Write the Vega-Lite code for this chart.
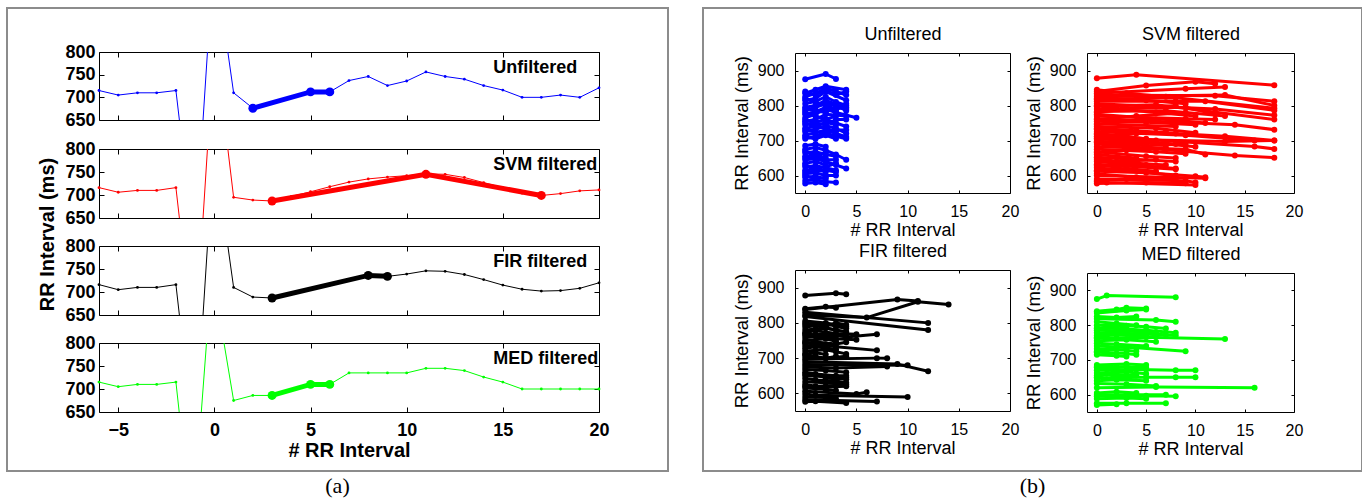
{
"$schema": "https://vega.github.io/schema/vega-lite/v6.json",
"padding": {"left": 6, "top": 7, "right": 0, "bottom": 0},
"background": "white",
"spacing": 33,
"datasets": {
"a": [
{"p":"Unfiltered","s":1,"x":-6,"y":715},{"p":"Unfiltered","s":1,"x":-5,"y":705},{"p":"Unfiltered","s":1,"x":-4,"y":710},{"p":"Unfiltered","s":1,"x":-3,"y":710},{"p":"Unfiltered","s":1,"x":-2,"y":715},{"p":"Unfiltered","s":1,"x":-1.82,"y":650},
{"p":"Unfiltered","s":2,"x":-0.59,"y":650},{"p":"Unfiltered","s":2,"x":-0.36,"y":800},
{"p":"Unfiltered","s":3,"x":0.7,"y":800},{"p":"Unfiltered","s":3,"x":1,"y":710},{"p":"Unfiltered","s":3,"x":2,"y":676},{"p":"Unfiltered","s":3,"x":3,"y":688},{"p":"Unfiltered","s":3,"x":4,"y":700},{"p":"Unfiltered","s":3,"x":5,"y":712},{"p":"Unfiltered","s":3,"x":6,"y":712},{"p":"Unfiltered","s":3,"x":7,"y":737},{"p":"Unfiltered","s":3,"x":8,"y":746},{"p":"Unfiltered","s":3,"x":9,"y":726},{"p":"Unfiltered","s":3,"x":10,"y":736},{"p":"Unfiltered","s":3,"x":11,"y":756},{"p":"Unfiltered","s":3,"x":12,"y":746},{"p":"Unfiltered","s":3,"x":13,"y":740},{"p":"Unfiltered","s":3,"x":14,"y":726},{"p":"Unfiltered","s":3,"x":15,"y":716},{"p":"Unfiltered","s":3,"x":16,"y":700},{"p":"Unfiltered","s":3,"x":17,"y":700},{"p":"Unfiltered","s":3,"x":18,"y":705},{"p":"Unfiltered","s":3,"x":19,"y":700},{"p":"Unfiltered","s":3,"x":20,"y":721},
{"p":"SVM filtered","s":1,"x":-6,"y":716},{"p":"SVM filtered","s":1,"x":-5,"y":706},{"p":"SVM filtered","s":1,"x":-4,"y":710},{"p":"SVM filtered","s":1,"x":-3,"y":710},{"p":"SVM filtered","s":1,"x":-2,"y":716},{"p":"SVM filtered","s":1,"x":-1.82,"y":650},
{"p":"SVM filtered","s":2,"x":-0.59,"y":650},{"p":"SVM filtered","s":2,"x":-0.36,"y":800},
{"p":"SVM filtered","s":3,"x":0.7,"y":800},{"p":"SVM filtered","s":3,"x":1,"y":695},{"p":"SVM filtered","s":3,"x":2,"y":689},{"p":"SVM filtered","s":3,"x":3,"y":687},{"p":"SVM filtered","s":3,"x":4,"y":697},{"p":"SVM filtered","s":3,"x":5,"y":707},{"p":"SVM filtered","s":3,"x":6,"y":718},{"p":"SVM filtered","s":3,"x":7,"y":728},{"p":"SVM filtered","s":3,"x":8,"y":735},{"p":"SVM filtered","s":3,"x":9,"y":739},{"p":"SVM filtered","s":3,"x":10,"y":742},{"p":"SVM filtered","s":3,"x":11,"y":746},{"p":"SVM filtered","s":3,"x":12,"y":745},{"p":"SVM filtered","s":3,"x":13,"y":738},{"p":"SVM filtered","s":3,"x":14,"y":727},{"p":"SVM filtered","s":3,"x":15,"y":716},{"p":"SVM filtered","s":3,"x":16,"y":704},{"p":"SVM filtered","s":3,"x":17,"y":699},{"p":"SVM filtered","s":3,"x":18,"y":703},{"p":"SVM filtered","s":3,"x":19,"y":709},{"p":"SVM filtered","s":3,"x":20,"y":711},
{"p":"FIR filtered","s":1,"x":-6,"y":716},{"p":"FIR filtered","s":1,"x":-5,"y":705},{"p":"FIR filtered","s":1,"x":-4,"y":710},{"p":"FIR filtered","s":1,"x":-3,"y":710},{"p":"FIR filtered","s":1,"x":-2,"y":716},{"p":"FIR filtered","s":1,"x":-1.82,"y":650},
{"p":"FIR filtered","s":2,"x":-0.59,"y":650},{"p":"FIR filtered","s":2,"x":-0.36,"y":800},
{"p":"FIR filtered","s":3,"x":0.7,"y":800},{"p":"FIR filtered","s":3,"x":1,"y":710},{"p":"FIR filtered","s":3,"x":2,"y":689},{"p":"FIR filtered","s":3,"x":3,"y":687},{"p":"FIR filtered","s":3,"x":4,"y":696},{"p":"FIR filtered","s":3,"x":5,"y":706},{"p":"FIR filtered","s":3,"x":6,"y":715},{"p":"FIR filtered","s":3,"x":7,"y":727},{"p":"FIR filtered","s":3,"x":8,"y":736},{"p":"FIR filtered","s":3,"x":9,"y":734},{"p":"FIR filtered","s":3,"x":10,"y":739},{"p":"FIR filtered","s":3,"x":11,"y":746},{"p":"FIR filtered","s":3,"x":12,"y":745},{"p":"FIR filtered","s":3,"x":13,"y":738},{"p":"FIR filtered","s":3,"x":14,"y":727},{"p":"FIR filtered","s":3,"x":15,"y":715},{"p":"FIR filtered","s":3,"x":16,"y":706},{"p":"FIR filtered","s":3,"x":17,"y":702},{"p":"FIR filtered","s":3,"x":18,"y":703},{"p":"FIR filtered","s":3,"x":19,"y":708},{"p":"FIR filtered","s":3,"x":20,"y":720},
{"p":"MED filtered","s":1,"x":-6,"y":715},{"p":"MED filtered","s":1,"x":-5,"y":705},{"p":"MED filtered","s":1,"x":-4,"y":710},{"p":"MED filtered","s":1,"x":-3,"y":710},{"p":"MED filtered","s":1,"x":-2,"y":715},{"p":"MED filtered","s":1,"x":-1.83,"y":650},
{"p":"MED filtered","s":2,"x":-0.68,"y":650},{"p":"MED filtered","s":2,"x":-0.41,"y":800},
{"p":"MED filtered","s":3,"x":0.5,"y":800},{"p":"MED filtered","s":3,"x":1,"y":675},{"p":"MED filtered","s":3,"x":2,"y":686},{"p":"MED filtered","s":3,"x":3,"y":686},{"p":"MED filtered","s":3,"x":4,"y":698},{"p":"MED filtered","s":3,"x":5,"y":710},{"p":"MED filtered","s":3,"x":6,"y":710},{"p":"MED filtered","s":3,"x":7,"y":735},{"p":"MED filtered","s":3,"x":8,"y":735},{"p":"MED filtered","s":3,"x":9,"y":735},{"p":"MED filtered","s":3,"x":10,"y":735},{"p":"MED filtered","s":3,"x":11,"y":745},{"p":"MED filtered","s":3,"x":12,"y":745},{"p":"MED filtered","s":3,"x":13,"y":740},{"p":"MED filtered","s":3,"x":14,"y":726},{"p":"MED filtered","s":3,"x":15,"y":715},{"p":"MED filtered","s":3,"x":16,"y":700},{"p":"MED filtered","s":3,"x":17,"y":700},{"p":"MED filtered","s":3,"x":18,"y":700},{"p":"MED filtered","s":3,"x":19,"y":700},{"p":"MED filtered","s":3,"x":20,"y":700}
],
"ah": [
{"p":"Unfiltered","x":2,"y":676},{"p":"Unfiltered","x":5,"y":712},{"p":"Unfiltered","x":6,"y":712},
{"p":"SVM filtered","x":3,"y":687},{"p":"SVM filtered","x":11,"y":745},{"p":"SVM filtered","x":17,"y":699},
{"p":"FIR filtered","x":3,"y":687},{"p":"FIR filtered","x":8,"y":736},{"p":"FIR filtered","x":9,"y":734},
{"p":"MED filtered","x":3,"y":686},{"p":"MED filtered","x":5,"y":710},{"p":"MED filtered","x":6,"y":710}
],
"b": [
{"p":"U","i":1,"x":0,"y":875},{"p":"U","i":1,"x":2,"y":890},{"p":"U","i":1,"x":3,"y":876},
{"p":"U","i":2,"x":0,"y":835},{"p":"U","i":2,"x":1,"y":845},{"p":"U","i":2,"x":2,"y":855},{"p":"U","i":2,"x":4,"y":845},
{"p":"U","i":3,"x":0,"y":825},{"p":"U","i":3,"x":1,"y":835},{"p":"U","i":3,"x":2,"y":850},{"p":"U","i":3,"x":3,"y":840},{"p":"U","i":3,"x":4,"y":830},
{"p":"U","i":4,"x":0,"y":815},{"p":"U","i":4,"x":1,"y":820},{"p":"U","i":4,"x":2,"y":840},{"p":"U","i":4,"x":4,"y":815},
{"p":"U","i":5,"x":0,"y":805},{"p":"U","i":5,"x":1,"y":812},{"p":"U","i":5,"x":2,"y":825},{"p":"U","i":5,"x":3,"y":810},{"p":"U","i":5,"x":4,"y":800},
{"p":"U","i":6,"x":0,"y":795},{"p":"U","i":6,"x":1,"y":800},{"p":"U","i":6,"x":2,"y":815},{"p":"U","i":6,"x":4,"y":790},
{"p":"U","i":7,"x":0,"y":785},{"p":"U","i":7,"x":1,"y":795},{"p":"U","i":7,"x":2,"y":805},{"p":"U","i":7,"x":3,"y":800},{"p":"U","i":7,"x":4,"y":785},
{"p":"U","i":8,"x":0,"y":775},{"p":"U","i":8,"x":1,"y":782},{"p":"U","i":8,"x":2,"y":795},{"p":"U","i":8,"x":3,"y":785},
{"p":"U","i":9,"x":0,"y":765},{"p":"U","i":9,"x":1,"y":775},{"p":"U","i":9,"x":2,"y":790},{"p":"U","i":9,"x":3,"y":780},{"p":"U","i":9,"x":5,"y":765},
{"p":"U","i":10,"x":0,"y":755},{"p":"U","i":10,"x":1,"y":760},{"p":"U","i":10,"x":2,"y":775},{"p":"U","i":10,"x":4,"y":770},
{"p":"U","i":11,"x":0,"y":745},{"p":"U","i":11,"x":1,"y":752},{"p":"U","i":11,"x":2,"y":760},{"p":"U","i":11,"x":3,"y":750},{"p":"U","i":11,"x":4,"y":740},
{"p":"U","i":12,"x":0,"y":735},{"p":"U","i":12,"x":1,"y":740},{"p":"U","i":12,"x":2,"y":752},{"p":"U","i":12,"x":3,"y":745},
{"p":"U","i":13,"x":0,"y":725},{"p":"U","i":13,"x":1,"y":732},{"p":"U","i":13,"x":2,"y":742},{"p":"U","i":13,"x":3,"y":735},{"p":"U","i":13,"x":4,"y":720},
{"p":"U","i":14,"x":0,"y":715},{"p":"U","i":14,"x":1,"y":722},{"p":"U","i":14,"x":2,"y":730},{"p":"U","i":14,"x":4,"y":710},
{"p":"U","i":15,"x":0,"y":705},{"p":"U","i":15,"x":1,"y":712},{"p":"U","i":15,"x":2,"y":722},{"p":"U","i":15,"x":3,"y":712},{"p":"U","i":15,"x":4,"y":705},
{"p":"U","i":16,"x":0,"y":780},{"p":"U","i":16,"x":1,"y":770},{"p":"U","i":16,"x":2,"y":760},{"p":"U","i":16,"x":3,"y":770},
{"p":"U","i":17,"x":0,"y":820},{"p":"U","i":17,"x":1,"y":810},{"p":"U","i":17,"x":2,"y":800},{"p":"U","i":17,"x":3,"y":790},{"p":"U","i":17,"x":4,"y":795},
{"p":"U","i":18,"x":0,"y":750},{"p":"U","i":18,"x":1,"y":740},{"p":"U","i":18,"x":2,"y":735},{"p":"U","i":18,"x":3,"y":725},
{"p":"U","i":19,"x":0,"y":685},{"p":"U","i":19,"x":1,"y":690},{"p":"U","i":19,"x":2,"y":682},
{"p":"U","i":20,"x":0,"y":675},{"p":"U","i":20,"x":1,"y":680},{"p":"U","i":20,"x":2,"y":672},{"p":"U","i":20,"x":3,"y":660},{"p":"U","i":20,"x":4,"y":645},
{"p":"U","i":21,"x":0,"y":665},{"p":"U","i":21,"x":1,"y":668},{"p":"U","i":21,"x":2,"y":660},{"p":"U","i":21,"x":3,"y":655},
{"p":"U","i":22,"x":0,"y":655},{"p":"U","i":22,"x":1,"y":660},{"p":"U","i":22,"x":2,"y":650},
{"p":"U","i":23,"x":0,"y":645},{"p":"U","i":23,"x":1,"y":648},{"p":"U","i":23,"x":2,"y":640},{"p":"U","i":23,"x":3,"y":630},{"p":"U","i":23,"x":4,"y":620},
{"p":"U","i":24,"x":0,"y":635},{"p":"U","i":24,"x":1,"y":640},{"p":"U","i":24,"x":2,"y":630},
{"p":"U","i":25,"x":0,"y":625},{"p":"U","i":25,"x":1,"y":628},{"p":"U","i":25,"x":2,"y":622},{"p":"U","i":25,"x":3,"y":615},
{"p":"U","i":26,"x":0,"y":615},{"p":"U","i":26,"x":1,"y":620},{"p":"U","i":26,"x":2,"y":610},
{"p":"U","i":27,"x":0,"y":605},{"p":"U","i":27,"x":1,"y":608},{"p":"U","i":27,"x":2,"y":600},{"p":"U","i":27,"x":3,"y":600},
{"p":"U","i":28,"x":0,"y":595},{"p":"U","i":28,"x":1,"y":598},{"p":"U","i":28,"x":2,"y":590},
{"p":"U","i":29,"x":0,"y":585},{"p":"U","i":29,"x":1,"y":588},{"p":"U","i":29,"x":2,"y":582},{"p":"U","i":29,"x":3,"y":580},
{"p":"U","i":30,"x":0,"y":577},{"p":"U","i":30,"x":1,"y":580},{"p":"U","i":30,"x":2,"y":575},
{"p":"U","i":31,"x":0,"y":670},{"p":"U","i":31,"x":1,"y":660},{"p":"U","i":31,"x":2,"y":665},
{"p":"U","i":32,"x":0,"y":630},{"p":"U","i":32,"x":1,"y":620},{"p":"U","i":32,"x":2,"y":625},{"p":"U","i":32,"x":3,"y":635},
{"p":"U","i":33,"x":0,"y":600},{"p":"U","i":33,"x":1,"y":590},{"p":"U","i":33,"x":2,"y":595},
{"p":"U","i":34,"x":0,"y":840},{"p":"U","i":34,"x":1,"y":830},{"p":"U","i":34,"x":2,"y":845},{"p":"U","i":34,"x":3,"y":830},{"p":"U","i":34,"x":4,"y":840},
{"p":"U","i":35,"x":0,"y":710},{"p":"U","i":35,"x":1,"y":705},{"p":"U","i":35,"x":2,"y":715},{"p":"U","i":35,"x":3,"y":705},
{"p":"U","i":36,"x":0,"y":790},{"p":"U","i":36,"x":1,"y":785},{"p":"U","i":36,"x":2,"y":780},{"p":"U","i":36,"x":3,"y":795},{"p":"U","i":36,"x":4,"y":805},
{"p":"U","i":37,"x":0,"y":730},{"p":"U","i":37,"x":1,"y":725},{"p":"U","i":37,"x":2,"y":720},{"p":"U","i":37,"x":3,"y":730},{"p":"U","i":37,"x":4,"y":730},
{"p":"U","i":38,"x":0,"y":650},{"p":"U","i":38,"x":1,"y":652},{"p":"U","i":38,"x":2,"y":645},{"p":"U","i":38,"x":3,"y":645},
{"p":"U","i":39,"x":0,"y":610},{"p":"U","i":39,"x":1,"y":612},{"p":"U","i":39,"x":2,"y":615},{"p":"U","i":39,"x":3,"y":610},
{"p":"U","i":40,"x":0,"y":760},{"p":"U","i":40,"x":1,"y":750},{"p":"U","i":40,"x":2,"y":745},{"p":"U","i":40,"x":3,"y":760},{"p":"U","i":40,"x":4,"y":760},
{"p":"S","i":1,"x":0,"y":878},{"p":"S","i":1,"x":4,"y":888},{"p":"S","i":1,"x":18,"y":858},
{"p":"S","i":2,"x":0,"y":840},{"p":"S","i":2,"x":5,"y":857},{"p":"S","i":2,"x":10,"y":868},{"p":"S","i":2,"x":12,"y":862},
{"p":"S","i":3,"x":0,"y":835},{"p":"S","i":3,"x":9,"y":848},{"p":"S","i":3,"x":13,"y":853},
{"p":"S","i":4,"x":0,"y":830},{"p":"S","i":4,"x":12,"y":828},{"p":"S","i":4,"x":18,"y":812},
{"p":"S","i":5,"x":0,"y":825},{"p":"S","i":5,"x":13,"y":830},{"p":"S","i":5,"x":18,"y":800},
{"p":"S","i":6,"x":0,"y":818},{"p":"S","i":6,"x":8,"y":822},{"p":"S","i":6,"x":18,"y":792},
{"p":"S","i":7,"x":0,"y":812},{"p":"S","i":7,"x":11,"y":812},{"p":"S","i":7,"x":18,"y":786},
{"p":"S","i":8,"x":0,"y":805},{"p":"S","i":8,"x":12,"y":790},{"p":"S","i":8,"x":18,"y":772},
{"p":"S","i":9,"x":0,"y":798},{"p":"S","i":9,"x":6,"y":802},{"p":"S","i":9,"x":18,"y":760},
{"p":"S","i":10,"x":0,"y":790},{"p":"S","i":10,"x":9,"y":795},{"p":"S","i":10,"x":12,"y":775},
{"p":"S","i":11,"x":0,"y":783},{"p":"S","i":11,"x":7,"y":785},{"p":"S","i":11,"x":13,"y":770},
{"p":"S","i":12,"x":0,"y":775},{"p":"S","i":12,"x":8,"y":758},{"p":"S","i":12,"x":11,"y":750},
{"p":"S","i":13,"x":0,"y":770},{"p":"S","i":13,"x":9,"y":762},{"p":"S","i":13,"x":12,"y":760},
{"p":"S","i":14,"x":0,"y":762},{"p":"S","i":14,"x":14,"y":745},{"p":"S","i":14,"x":18,"y":731},
{"p":"S","i":15,"x":0,"y":755},{"p":"S","i":15,"x":5,"y":752},{"p":"S","i":15,"x":10,"y":745},
{"p":"S","i":16,"x":0,"y":748},{"p":"S","i":16,"x":8,"y":740},
{"p":"S","i":17,"x":0,"y":740},{"p":"S","i":17,"x":6,"y":735},{"p":"S","i":17,"x":10,"y":722},
{"p":"S","i":18,"x":0,"y":732},{"p":"S","i":18,"x":13,"y":712},{"p":"S","i":18,"x":18,"y":700},
{"p":"S","i":19,"x":0,"y":725},{"p":"S","i":19,"x":9,"y":715},{"p":"S","i":19,"x":16,"y":700},
{"p":"S","i":20,"x":0,"y":718},{"p":"S","i":20,"x":5,"y":705},
{"p":"S","i":21,"x":0,"y":712},{"p":"S","i":21,"x":16,"y":683},{"p":"S","i":21,"x":18,"y":676},
{"p":"S","i":22,"x":0,"y":705},{"p":"S","i":22,"x":13,"y":697},{"p":"S","i":22,"x":18,"y":700},
{"p":"S","i":23,"x":0,"y":698},{"p":"S","i":23,"x":7,"y":690},{"p":"S","i":23,"x":10,"y":682},
{"p":"S","i":24,"x":0,"y":690},{"p":"S","i":24,"x":14,"y":657},{"p":"S","i":24,"x":18,"y":651},
{"p":"S","i":25,"x":0,"y":682},{"p":"S","i":25,"x":9,"y":675},{"p":"S","i":25,"x":11,"y":660},
{"p":"S","i":26,"x":0,"y":675},{"p":"S","i":26,"x":6,"y":668},{"p":"S","i":26,"x":9,"y":662},
{"p":"S","i":27,"x":0,"y":668},{"p":"S","i":27,"x":5,"y":655},{"p":"S","i":27,"x":8,"y":650},
{"p":"S","i":28,"x":0,"y":660},{"p":"S","i":28,"x":4,"y":650},
{"p":"S","i":29,"x":0,"y":652},{"p":"S","i":29,"x":8,"y":640},
{"p":"S","i":30,"x":0,"y":640},{"p":"S","i":30,"x":8,"y":620},
{"p":"S","i":31,"x":0,"y":632},{"p":"S","i":31,"x":8,"y":618},
{"p":"S","i":32,"x":0,"y":622},{"p":"S","i":32,"x":8,"y":600},
{"p":"S","i":33,"x":0,"y":612},{"p":"S","i":33,"x":5,"y":608},{"p":"S","i":33,"x":10,"y":598},{"p":"S","i":33,"x":11,"y":595},
{"p":"S","i":34,"x":0,"y":600},{"p":"S","i":34,"x":11,"y":592},
{"p":"S","i":35,"x":0,"y":590},{"p":"S","i":35,"x":9,"y":585},{"p":"S","i":35,"x":10,"y":580},
{"p":"S","i":36,"x":0,"y":582},{"p":"S","i":36,"x":1,"y":580},{"p":"S","i":36,"x":10,"y":573},
{"p":"S","i":37,"x":0,"y":577},{"p":"S","i":37,"x":5,"y":580},{"p":"S","i":37,"x":9,"y":578},
{"p":"S","i":38,"x":0,"y":650},{"p":"S","i":38,"x":2,"y":640},{"p":"S","i":38,"x":6,"y":645},
{"p":"S","i":39,"x":0,"y":705},{"p":"S","i":39,"x":3,"y":700},{"p":"S","i":39,"x":8,"y":690},
{"p":"S","i":40,"x":0,"y":760},{"p":"S","i":40,"x":4,"y":770},{"p":"S","i":40,"x":9,"y":780},
{"p":"S","i":41,"x":0,"y":845},{"p":"S","i":41,"x":3,"y":835},{"p":"S","i":41,"x":7,"y":825},
{"p":"S","i":42,"x":0,"y":800},{"p":"S","i":42,"x":2,"y":790},{"p":"S","i":42,"x":6,"y":780},{"p":"S","i":42,"x":10,"y":770},
{"p":"S","i":43,"x":0,"y":735},{"p":"S","i":43,"x":4,"y":728},{"p":"S","i":43,"x":8,"y":720},
{"p":"S","i":44,"x":0,"y":720},{"p":"S","i":44,"x":3,"y":712},{"p":"S","i":44,"x":6,"y":700},
{"p":"S","i":45,"x":0,"y":695},{"p":"S","i":45,"x":5,"y":685},{"p":"S","i":45,"x":9,"y":690},
{"p":"S","i":46,"x":0,"y":665},{"p":"S","i":46,"x":3,"y":672},{"p":"S","i":46,"x":7,"y":680},
{"p":"S","i":47,"x":0,"y":645},{"p":"S","i":47,"x":4,"y":635},{"p":"S","i":47,"x":7,"y":630},
{"p":"S","i":48,"x":0,"y":615},{"p":"S","i":48,"x":3,"y":620},{"p":"S","i":48,"x":6,"y":612},
{"p":"S","i":49,"x":0,"y":605},{"p":"S","i":49,"x":4,"y":595},{"p":"S","i":49,"x":8,"y":590},
{"p":"S","i":50,"x":0,"y":585},{"p":"S","i":50,"x":3,"y":590},{"p":"S","i":50,"x":7,"y":595},
{"p":"S","i":51,"x":0,"y":780},{"p":"S","i":51,"x":3,"y":790},{"p":"S","i":51,"x":8,"y":800},
{"p":"S","i":52,"x":0,"y":820},{"p":"S","i":52,"x":5,"y":815},{"p":"S","i":52,"x":9,"y":805},
{"p":"S","i":53,"x":0,"y":745},{"p":"S","i":53,"x":2,"y":755},{"p":"S","i":53,"x":6,"y":760},
{"p":"S","i":54,"x":0,"y":710},{"p":"S","i":54,"x":4,"y":720},{"p":"S","i":54,"x":7,"y":725},
{"p":"S","i":55,"x":0,"y":628},{"p":"S","i":55,"x":2,"y":625},{"p":"S","i":55,"x":5,"y":630},
{"p":"F","i":1,"x":0,"y":878},{"p":"F","i":1,"x":3,"y":884},{"p":"F","i":1,"x":4,"y":881},
{"p":"F","i":2,"x":0,"y":840},{"p":"F","i":2,"x":2,"y":846},{"p":"F","i":2,"x":3,"y":843},
{"p":"F","i":3,"x":0,"y":838},{"p":"F","i":3,"x":9,"y":866},{"p":"F","i":3,"x":11,"y":862},
{"p":"F","i":4,"x":0,"y":822},{"p":"F","i":4,"x":6,"y":815},{"p":"F","i":4,"x":11,"y":860},{"p":"F","i":4,"x":14,"y":852},
{"p":"F","i":5,"x":0,"y":830},{"p":"F","i":5,"x":12,"y":800},
{"p":"F","i":6,"x":0,"y":818},{"p":"F","i":6,"x":12,"y":780},
{"p":"F","i":7,"x":0,"y":805},{"p":"F","i":7,"x":2,"y":800},{"p":"F","i":7,"x":4,"y":790},
{"p":"F","i":8,"x":0,"y":795},{"p":"F","i":8,"x":2,"y":798},{"p":"F","i":8,"x":3,"y":790},{"p":"F","i":8,"x":4,"y":785},
{"p":"F","i":9,"x":0,"y":788},{"p":"F","i":9,"x":1,"y":792},{"p":"F","i":9,"x":3,"y":780},
{"p":"F","i":10,"x":0,"y":780},{"p":"F","i":10,"x":2,"y":785},{"p":"F","i":10,"x":4,"y":775},
{"p":"F","i":11,"x":0,"y":772},{"p":"F","i":11,"x":1,"y":778},{"p":"F","i":11,"x":3,"y":770},{"p":"F","i":11,"x":5,"y":768},
{"p":"F","i":12,"x":0,"y":765},{"p":"F","i":12,"x":2,"y":770},{"p":"F","i":12,"x":4,"y":760},{"p":"F","i":12,"x":7,"y":768},
{"p":"F","i":13,"x":0,"y":758},{"p":"F","i":13,"x":1,"y":762},{"p":"F","i":13,"x":3,"y":755},{"p":"F","i":13,"x":5,"y":752},
{"p":"F","i":14,"x":0,"y":750},{"p":"F","i":14,"x":2,"y":755},{"p":"F","i":14,"x":3,"y":748},
{"p":"F","i":15,"x":0,"y":742},{"p":"F","i":15,"x":1,"y":746},{"p":"F","i":15,"x":3,"y":740},
{"p":"F","i":16,"x":0,"y":735},{"p":"F","i":16,"x":2,"y":738},{"p":"F","i":16,"x":3,"y":732},{"p":"F","i":16,"x":7,"y":722},
{"p":"F","i":17,"x":0,"y":728},{"p":"F","i":17,"x":1,"y":732},{"p":"F","i":17,"x":3,"y":725},
{"p":"F","i":18,"x":0,"y":720},{"p":"F","i":18,"x":2,"y":724},{"p":"F","i":18,"x":3,"y":718},{"p":"F","i":18,"x":4,"y":712},
{"p":"F","i":19,"x":0,"y":712},{"p":"F","i":19,"x":1,"y":715},{"p":"F","i":19,"x":2,"y":710},
{"p":"F","i":20,"x":0,"y":704},{"p":"F","i":20,"x":2,"y":700},{"p":"F","i":20,"x":4,"y":705},
{"p":"F","i":21,"x":0,"y":697},{"p":"F","i":21,"x":7,"y":700},{"p":"F","i":21,"x":8,"y":700},
{"p":"F","i":22,"x":0,"y":690},{"p":"F","i":22,"x":9,"y":683},{"p":"F","i":22,"x":12,"y":663},
{"p":"F","i":23,"x":0,"y":682},{"p":"F","i":23,"x":10,"y":680},
{"p":"F","i":24,"x":0,"y":675},{"p":"F","i":24,"x":3,"y":672},{"p":"F","i":24,"x":8,"y":676},
{"p":"F","i":25,"x":0,"y":668},{"p":"F","i":25,"x":2,"y":665},{"p":"F","i":25,"x":4,"y":660},
{"p":"F","i":26,"x":0,"y":660},{"p":"F","i":26,"x":1,"y":655},{"p":"F","i":26,"x":3,"y":650},{"p":"F","i":26,"x":4,"y":650},
{"p":"F","i":27,"x":0,"y":650},{"p":"F","i":27,"x":2,"y":648},{"p":"F","i":27,"x":4,"y":640},
{"p":"F","i":28,"x":0,"y":642},{"p":"F","i":28,"x":1,"y":638},{"p":"F","i":28,"x":3,"y":635},{"p":"F","i":28,"x":4,"y":630},
{"p":"F","i":29,"x":0,"y":633},{"p":"F","i":29,"x":2,"y":630},{"p":"F","i":29,"x":4,"y":625},
{"p":"F","i":30,"x":0,"y":625},{"p":"F","i":30,"x":1,"y":620},{"p":"F","i":30,"x":3,"y":622},
{"p":"F","i":31,"x":0,"y":615},{"p":"F","i":31,"x":2,"y":612},{"p":"F","i":31,"x":3,"y":608},
{"p":"F","i":32,"x":0,"y":606},{"p":"F","i":32,"x":5,"y":598},{"p":"F","i":32,"x":6,"y":603},
{"p":"F","i":33,"x":0,"y":598},{"p":"F","i":33,"x":1,"y":595},{"p":"F","i":33,"x":10,"y":590},
{"p":"F","i":34,"x":0,"y":590},{"p":"F","i":34,"x":2,"y":588},{"p":"F","i":34,"x":3,"y":585},
{"p":"F","i":35,"x":0,"y":582},{"p":"F","i":35,"x":7,"y":577},
{"p":"F","i":36,"x":0,"y":576},{"p":"F","i":36,"x":1,"y":578},{"p":"F","i":36,"x":4,"y":573},
{"p":"F","i":37,"x":0,"y":800},{"p":"F","i":37,"x":1,"y":795},{"p":"F","i":37,"x":2,"y":790},{"p":"F","i":37,"x":3,"y":800},{"p":"F","i":37,"x":4,"y":795},
{"p":"F","i":38,"x":0,"y":745},{"p":"F","i":38,"x":1,"y":740},{"p":"F","i":38,"x":2,"y":735},{"p":"F","i":38,"x":4,"y":745},
{"p":"F","i":39,"x":0,"y":770},{"p":"F","i":39,"x":1,"y":765},{"p":"F","i":39,"x":2,"y":760},{"p":"F","i":39,"x":3,"y":765},{"p":"F","i":39,"x":4,"y":770},
{"p":"F","i":40,"x":0,"y":710},{"p":"F","i":40,"x":1,"y":705},{"p":"F","i":40,"x":2,"y":700},{"p":"F","i":40,"x":3,"y":705},
{"p":"F","i":41,"x":0,"y":655},{"p":"F","i":41,"x":1,"y":652},{"p":"F","i":41,"x":2,"y":645},{"p":"F","i":41,"x":3,"y":640},{"p":"F","i":41,"x":4,"y":645},
{"p":"F","i":42,"x":0,"y":620},{"p":"F","i":42,"x":1,"y":615},{"p":"F","i":42,"x":2,"y":618},{"p":"F","i":42,"x":4,"y":620},
{"p":"M","i":1,"x":0,"y":875},{"p":"M","i":1,"x":1,"y":885},{"p":"M","i":1,"x":8,"y":880},
{"p":"M","i":2,"x":0,"y":840},{"p":"M","i":2,"x":2,"y":845},{"p":"M","i":2,"x":3,"y":850},{"p":"M","i":2,"x":5,"y":848},
{"p":"M","i":3,"x":0,"y":835},{"p":"M","i":3,"x":3,"y":842},{"p":"M","i":3,"x":5,"y":845},
{"p":"M","i":4,"x":0,"y":825},{"p":"M","i":4,"x":2,"y":822},{"p":"M","i":4,"x":4,"y":825},
{"p":"M","i":5,"x":0,"y":818},{"p":"M","i":5,"x":6,"y":815},{"p":"M","i":5,"x":8,"y":810},
{"p":"M","i":6,"x":0,"y":810},{"p":"M","i":6,"x":2,"y":805},{"p":"M","i":6,"x":4,"y":800},
{"p":"M","i":7,"x":0,"y":800},{"p":"M","i":7,"x":3,"y":798},{"p":"M","i":7,"x":5,"y":795},{"p":"M","i":7,"x":7,"y":790},
{"p":"M","i":8,"x":0,"y":792},{"p":"M","i":8,"x":2,"y":790},{"p":"M","i":8,"x":5,"y":785},{"p":"M","i":8,"x":8,"y":778},
{"p":"M","i":9,"x":0,"y":785},{"p":"M","i":9,"x":3,"y":783},{"p":"M","i":9,"x":6,"y":780},
{"p":"M","i":10,"x":0,"y":778},{"p":"M","i":10,"x":4,"y":775},{"p":"M","i":10,"x":8,"y":770},
{"p":"M","i":11,"x":0,"y":770},{"p":"M","i":11,"x":2,"y":772},{"p":"M","i":11,"x":5,"y":768},
{"p":"M","i":12,"x":0,"y":762},{"p":"M","i":12,"x":5,"y":765},{"p":"M","i":12,"x":13,"y":760},
{"p":"M","i":13,"x":0,"y":755},{"p":"M","i":13,"x":3,"y":758},{"p":"M","i":13,"x":6,"y":752},
{"p":"M","i":14,"x":0,"y":748},{"p":"M","i":14,"x":2,"y":745},{"p":"M","i":14,"x":5,"y":740},
{"p":"M","i":15,"x":0,"y":740},{"p":"M","i":15,"x":4,"y":735},{"p":"M","i":15,"x":9,"y":725},
{"p":"M","i":16,"x":0,"y":732},{"p":"M","i":16,"x":2,"y":730},{"p":"M","i":16,"x":4,"y":725},
{"p":"M","i":17,"x":0,"y":722},{"p":"M","i":17,"x":3,"y":718},{"p":"M","i":17,"x":4,"y":715},
{"p":"M","i":18,"x":0,"y":715},{"p":"M","i":18,"x":2,"y":712},{"p":"M","i":18,"x":3,"y":710},
{"p":"M","i":19,"x":0,"y":685},{"p":"M","i":19,"x":3,"y":688},{"p":"M","i":19,"x":5,"y":685},
{"p":"M","i":20,"x":0,"y":678},{"p":"M","i":20,"x":2,"y":680},{"p":"M","i":20,"x":5,"y":678},
{"p":"M","i":21,"x":0,"y":670},{"p":"M","i":21,"x":4,"y":672},{"p":"M","i":21,"x":8,"y":670},{"p":"M","i":21,"x":10,"y":670},
{"p":"M","i":22,"x":0,"y":662},{"p":"M","i":22,"x":3,"y":665},{"p":"M","i":22,"x":5,"y":660},
{"p":"M","i":23,"x":0,"y":655},{"p":"M","i":23,"x":2,"y":658},{"p":"M","i":23,"x":4,"y":655},
{"p":"M","i":24,"x":0,"y":648},{"p":"M","i":24,"x":5,"y":650},{"p":"M","i":24,"x":8,"y":650},{"p":"M","i":24,"x":10,"y":650},
{"p":"M","i":25,"x":0,"y":640},{"p":"M","i":25,"x":2,"y":643},{"p":"M","i":25,"x":5,"y":640},
{"p":"M","i":26,"x":0,"y":632},{"p":"M","i":26,"x":3,"y":630},{"p":"M","i":26,"x":6,"y":625},
{"p":"M","i":27,"x":0,"y":620},{"p":"M","i":27,"x":6,"y":622},{"p":"M","i":27,"x":16,"y":620},
{"p":"M","i":28,"x":0,"y":600},{"p":"M","i":28,"x":3,"y":600},{"p":"M","i":28,"x":7,"y":600},
{"p":"M","i":29,"x":0,"y":595},{"p":"M","i":29,"x":5,"y":597},{"p":"M","i":29,"x":8,"y":595},
{"p":"M","i":30,"x":0,"y":588},{"p":"M","i":30,"x":3,"y":590},{"p":"M","i":30,"x":5,"y":588},
{"p":"M","i":31,"x":0,"y":575},{"p":"M","i":31,"x":3,"y":575},{"p":"M","i":31,"x":7,"y":575},
{"p":"M","i":32,"x":0,"y":570},{"p":"M","i":32,"x":2,"y":572},
{"p":"M","i":33,"x":0,"y":790},{"p":"M","i":33,"x":1,"y":795},{"p":"M","i":33,"x":2,"y":800},{"p":"M","i":33,"x":3,"y":790},
{"p":"M","i":34,"x":0,"y":650},{"p":"M","i":34,"x":1,"y":660},{"p":"M","i":34,"x":2,"y":650},{"p":"M","i":34,"x":3,"y":655},
{"p":"M","i":35,"x":0,"y":765},{"p":"M","i":35,"x":1,"y":770},{"p":"M","i":35,"x":3,"y":775},{"p":"M","i":35,"x":5,"y":775},{"p":"M","i":35,"x":7,"y":772},
{"p":"M","i":36,"x":0,"y":725},{"p":"M","i":36,"x":1,"y":728},{"p":"M","i":36,"x":3,"y":730},
{"p":"M","i":37,"x":0,"y":680},{"p":"M","i":37,"x":1,"y":675},{"p":"M","i":37,"x":3,"y":680},{"p":"M","i":37,"x":5,"y":672},
{"p":"M","i":38,"x":0,"y":605},{"p":"M","i":38,"x":2,"y":608},{"p":"M","i":38,"x":4,"y":605}
]
},
"hconcat": [
{
"width": 661, "height": 463,
"view": {"stroke": "#8c8c8c", "strokeWidth": 2, "fill": "white"},
"title": {"text": "(a)", "orient": "bottom", "offset": 5},
"layer": [
{
"layer": [
{"data": {"name": "a"}, "transform": [{"filter": "datum.p == 'Unfiltered'"}],
 "mark": {"type": "line", "color": "#0000ff", "strokeWidth": 1},
 "encoding": {
  "x": {"field": "x", "type": "quantitative", "scale": {"domain": [-6, 20], "range": [92, 592], "nice": false, "zero": false},
        "axis": {"orient": "bottom", "offset": -351, "values": [-5,0,5,10,15,20], "tickSize": -5, "labels": false, "title": null}},
  "y": {"field": "y", "type": "quantitative", "scale": {"domain": [650, 800], "range": [112, 44], "nice": false, "zero": false},
        "axis": {"orient": "left", "offset": -92, "values": [650,700,750,800], "tickSize": -5, "labelPadding": 9, "labelFontSize": 18, "labelFontWeight": "bold", "title": null}},
  "detail": {"field": "s", "type": "nominal"}}},
{"data": {"name": "a"}, "transform": [{"filter": "datum.p == 'Unfiltered' && datum.x == floor(datum.x)"}],
 "mark": {"type": "circle", "color": "#0000ff", "size": 8, "opacity": 1},
 "encoding": {
  "x": {"field": "x", "type": "quantitative", "axis": {"orient": "top", "offset": -44, "values": [-5,0,5,10,15,20], "tickSize": -5, "labels": false, "title": null}},
  "y": {"field": "y", "type": "quantitative", "axis": {"orient": "right", "offset": -69, "values": [650,700,750,800], "tickSize": -5, "labels": false, "title": null}}}},
{"data": {"name": "ah"}, "transform": [{"filter": "datum.p == 'Unfiltered'"}],
 "mark": {"type": "line", "color": "#0000ff", "strokeWidth": 5},
 "encoding": {"x": {"field": "x", "type": "quantitative", "axis": null}, "y": {"field": "y", "type": "quantitative", "axis": null}}},
{"data": {"name": "ah"}, "transform": [{"filter": "datum.p == 'Unfiltered'"}],
 "mark": {"type": "circle", "color": "#0000ff", "size": 80, "opacity": 1},
 "encoding": {"x": {"field": "x", "type": "quantitative", "axis": null}, "y": {"field": "y", "type": "quantitative", "axis": null}}},
{"data": {"values": [{"label": "Unfiltered"}]},
 "mark": {"type": "text", "align": "left", "baseline": "middle", "fontSize": 18, "fontWeight": "bold", "color": "#000"},
 "encoding": {"x": {"datum": 14.5, "type": "quantitative", "axis": null}, "y": {"datum": 765, "type": "quantitative", "axis": null}, "text": {"field": "label"}}}
],
"resolve": {"axis": {"x": "independent", "y": "independent"}}
},
{
"layer": [
{"data": {"name": "a"}, "transform": [{"filter": "datum.p == 'SVM filtered'"}],
 "mark": {"type": "line", "color": "#ff0000", "strokeWidth": 1},
 "encoding": {
  "x": {"field": "x", "type": "quantitative", "scale": {"domain": [-6, 20], "range": [92, 592], "nice": false, "zero": false},
        "axis": {"orient": "bottom", "offset": -253, "values": [-5,0,5,10,15,20], "tickSize": -5, "labels": false, "title": null}},
  "y": {"field": "y", "type": "quantitative", "scale": {"domain": [650, 800], "range": [210, 141], "nice": false, "zero": false},
        "axis": {"orient": "left", "offset": -92, "values": [650,700,750,800], "tickSize": -5, "labelPadding": 9, "labelFontSize": 18, "labelFontWeight": "bold",
                 "title": "RR Interval (ms)", "titleX": -52, "titleY": 226, "titleAngle": 270, "titleAlign": "center", "titleBaseline": "middle", "titleFontSize": 20, "titleFontWeight": "bold"}},
  "detail": {"field": "s", "type": "nominal"}}},
{"data": {"name": "a"}, "transform": [{"filter": "datum.p == 'SVM filtered' && datum.x == floor(datum.x)"}],
 "mark": {"type": "circle", "color": "#ff0000", "size": 8, "opacity": 1},
 "encoding": {
  "x": {"field": "x", "type": "quantitative", "axis": {"orient": "top", "offset": -141, "values": [-5,0,5,10,15,20], "tickSize": -5, "labels": false, "title": null}},
  "y": {"field": "y", "type": "quantitative", "axis": {"orient": "right", "offset": -69, "values": [650,700,750,800], "tickSize": -5, "labels": false, "title": null}}}},
{"data": {"name": "ah"}, "transform": [{"filter": "datum.p == 'SVM filtered'"}],
 "mark": {"type": "line", "color": "#ff0000", "strokeWidth": 5},
 "encoding": {"x": {"field": "x", "type": "quantitative", "axis": null}, "y": {"field": "y", "type": "quantitative", "axis": null}}},
{"data": {"name": "ah"}, "transform": [{"filter": "datum.p == 'SVM filtered'"}],
 "mark": {"type": "circle", "color": "#ff0000", "size": 80, "opacity": 1},
 "encoding": {"x": {"field": "x", "type": "quantitative", "axis": null}, "y": {"field": "y", "type": "quantitative", "axis": null}}},
{"data": {"values": [{"label": "SVM filtered"}]},
 "mark": {"type": "text", "align": "left", "baseline": "middle", "fontSize": 18, "fontWeight": "bold", "color": "#000"},
 "encoding": {"x": {"datum": 14.5, "type": "quantitative", "axis": null}, "y": {"datum": 765, "type": "quantitative", "axis": null}, "text": {"field": "label"}}}
],
"resolve": {"axis": {"x": "independent", "y": "independent"}}
},
{
"layer": [
{"data": {"name": "a"}, "transform": [{"filter": "datum.p == 'FIR filtered'"}],
 "mark": {"type": "line", "color": "#000000", "strokeWidth": 1},
 "encoding": {
  "x": {"field": "x", "type": "quantitative", "scale": {"domain": [-6, 20], "range": [92, 592], "nice": false, "zero": false},
        "axis": {"orient": "bottom", "offset": -156, "values": [-5,0,5,10,15,20], "tickSize": -5, "labels": false, "title": null}},
  "y": {"field": "y", "type": "quantitative", "scale": {"domain": [650, 800], "range": [307, 238], "nice": false, "zero": false},
        "axis": {"orient": "left", "offset": -92, "values": [650,700,750,800], "tickSize": -5, "labelPadding": 9, "labelFontSize": 18, "labelFontWeight": "bold", "title": null}},
  "detail": {"field": "s", "type": "nominal"}}},
{"data": {"name": "a"}, "transform": [{"filter": "datum.p == 'FIR filtered' && datum.x == floor(datum.x)"}],
 "mark": {"type": "circle", "color": "#000000", "size": 8, "opacity": 1},
 "encoding": {
  "x": {"field": "x", "type": "quantitative", "axis": {"orient": "top", "offset": -238, "values": [-5,0,5,10,15,20], "tickSize": -5, "labels": false, "title": null}},
  "y": {"field": "y", "type": "quantitative", "axis": {"orient": "right", "offset": -69, "values": [650,700,750,800], "tickSize": -5, "labels": false, "title": null}}}},
{"data": {"name": "ah"}, "transform": [{"filter": "datum.p == 'FIR filtered'"}],
 "mark": {"type": "line", "color": "#000000", "strokeWidth": 5},
 "encoding": {"x": {"field": "x", "type": "quantitative", "axis": null}, "y": {"field": "y", "type": "quantitative", "axis": null}}},
{"data": {"name": "ah"}, "transform": [{"filter": "datum.p == 'FIR filtered'"}],
 "mark": {"type": "circle", "color": "#000000", "size": 80, "opacity": 1},
 "encoding": {"x": {"field": "x", "type": "quantitative", "axis": null}, "y": {"field": "y", "type": "quantitative", "axis": null}}},
{"data": {"values": [{"label": "FIR filtered"}]},
 "mark": {"type": "text", "align": "left", "baseline": "middle", "fontSize": 18, "fontWeight": "bold", "color": "#000"},
 "encoding": {"x": {"datum": 14.5, "type": "quantitative", "axis": null}, "y": {"datum": 765, "type": "quantitative", "axis": null}, "text": {"field": "label"}}}
],
"resolve": {"axis": {"x": "independent", "y": "independent"}}
},
{
"layer": [
{"data": {"name": "a"}, "transform": [{"filter": "datum.p == 'MED filtered'"}],
 "mark": {"type": "line", "color": "#00ff00", "strokeWidth": 1},
 "encoding": {
  "x": {"field": "x", "type": "quantitative", "scale": {"domain": [-6, 20], "range": [92, 592], "nice": false, "zero": false},
        "axis": {"orient": "bottom", "offset": -59, "values": [-5,0,5,10,15,20], "tickSize": -5, "labelPadding": 14, "labelFontSize": 18, "labelFontWeight": "bold",
                 "title": "# RR Interval", "titleFontSize": 20, "titleFontWeight": "bold", "titlePadding": 1}},
  "y": {"field": "y", "type": "quantitative", "scale": {"domain": [650, 800], "range": [404, 335], "nice": false, "zero": false},
        "axis": {"orient": "left", "offset": -92, "values": [650,700,750,800], "tickSize": -5, "labelPadding": 9, "labelFontSize": 18, "labelFontWeight": "bold", "title": null}},
  "detail": {"field": "s", "type": "nominal"}}},
{"data": {"name": "a"}, "transform": [{"filter": "datum.p == 'MED filtered' && datum.x == floor(datum.x)"}],
 "mark": {"type": "circle", "color": "#00ff00", "size": 8, "opacity": 1},
 "encoding": {
  "x": {"field": "x", "type": "quantitative", "axis": {"orient": "top", "offset": -335, "values": [-5,0,5,10,15,20], "tickSize": -5, "labels": false, "title": null}},
  "y": {"field": "y", "type": "quantitative", "axis": {"orient": "right", "offset": -69, "values": [650,700,750,800], "tickSize": -5, "labels": false, "title": null}}}},
{"data": {"name": "ah"}, "transform": [{"filter": "datum.p == 'MED filtered'"}],
 "mark": {"type": "line", "color": "#00ff00", "strokeWidth": 5},
 "encoding": {"x": {"field": "x", "type": "quantitative", "axis": null}, "y": {"field": "y", "type": "quantitative", "axis": null}}},
{"data": {"name": "ah"}, "transform": [{"filter": "datum.p == 'MED filtered'"}],
 "mark": {"type": "circle", "color": "#00ff00", "size": 80, "opacity": 1},
 "encoding": {"x": {"field": "x", "type": "quantitative", "axis": null}, "y": {"field": "y", "type": "quantitative", "axis": null}}},
{"data": {"values": [{"label": "MED filtered"}]},
 "mark": {"type": "text", "align": "left", "baseline": "middle", "fontSize": 18, "fontWeight": "bold", "color": "#000"},
 "encoding": {"x": {"datum": 14.5, "type": "quantitative", "axis": null}, "y": {"datum": 765, "type": "quantitative", "axis": null}, "text": {"field": "label"}}}
],
"resolve": {"axis": {"x": "independent", "y": "independent"}}
}
],
"resolve": {"scale": {"x": "independent", "y": "independent"}, "axis": {"x": "independent", "y": "independent"}}
},
{
"width": 659, "height": 463,
"view": {"stroke": "#8c8c8c", "strokeWidth": 2, "fill": "white"},
"title": {"text": "(b)", "orient": "bottom", "offset": 5},
"layer": [
{
"layer": [
{"data": {"name": "b"}, "transform": [{"filter": "datum.p == 'U'"}],
 "mark": {"type": "line", "color": "#0000ff", "strokeWidth": 3, "strokeJoin": "round", "strokeCap": "round"},
 "encoding": {
  "x": {"field": "x", "type": "quantitative", "scale": {"domain": [-1, 20], "range": [92, 307], "nice": false, "zero": false},
        "axis": {"orient": "bottom", "offset": -278, "values": [0,5,10,15,20], "tickSize": -3, "labelPadding": 13, "labelFontSize": 16, "title": "# RR Interval", "titleFontSize": 18, "titleFontWeight": "normal", "titlePadding": 2}},
  "y": {"field": "y", "type": "quantitative", "scale": {"domain": [550, 950], "range": [185, 45], "nice": false, "zero": false},
        "axis": {"orient": "left", "offset": -92, "values": [600,700,800,900], "tickSize": -3, "labelPadding": 14, "labelFontSize": 16, "title": "RR Interval (ms)", "titleFontSize": 18.5, "titleFontWeight": "normal", "titlePadding": 6}},
  "detail": {"field": "i", "type": "nominal"}}},
{"data": {"name": "b"}, "transform": [{"filter": "datum.p == 'U'"}],
 "mark": {"type": "circle", "color": "#0000ff", "size": 36, "opacity": 1},
 "encoding": {
  "x": {"field": "x", "type": "quantitative", "axis": {"orient": "top", "offset": -45, "values": [0,5,10,15,20], "tickSize": -3, "labels": false, "title": "Unfiltered", "titleFontSize": 18, "titleFontWeight": "normal", "titlePadding": 9.5}},
  "y": {"field": "y", "type": "quantitative", "axis": {"orient": "right", "offset": -352, "values": [600,700,800,900], "tickSize": -3, "labels": false, "title": null}}}}
],
"resolve": {"axis": {"x": "independent", "y": "independent"}}
},
{
"layer": [
{"data": {"name": "b"}, "transform": [{"filter": "datum.p == 'S'"}],
 "mark": {"type": "line", "color": "#ff0000", "strokeWidth": 3, "strokeJoin": "round", "strokeCap": "round"},
 "encoding": {
  "x": {"field": "x", "type": "quantitative", "scale": {"domain": [-1, 20], "range": [384, 591], "nice": false, "zero": false},
        "axis": {"orient": "bottom", "offset": -278, "values": [0,5,10,15,20], "tickSize": -3, "labelPadding": 13, "labelFontSize": 16, "title": "# RR Interval", "titleFontSize": 18, "titleFontWeight": "normal", "titlePadding": 2}},
  "y": {"field": "y", "type": "quantitative", "scale": {"domain": [550, 950], "range": [185, 45], "nice": false, "zero": false},
        "axis": {"orient": "left", "offset": -384, "values": [600,700,800,900], "tickSize": -3, "labelPadding": 14, "labelFontSize": 16, "title": "RR Interval (ms)", "titleFontSize": 18.5, "titleFontWeight": "normal", "titlePadding": 6}},
  "detail": {"field": "i", "type": "nominal"}}},
{"data": {"name": "b"}, "transform": [{"filter": "datum.p == 'S'"}],
 "mark": {"type": "circle", "color": "#ff0000", "size": 36, "opacity": 1},
 "encoding": {
  "x": {"field": "x", "type": "quantitative", "axis": {"orient": "top", "offset": -45, "values": [0,5,10,15,20], "tickSize": -3, "labels": false, "title": "SVM filtered", "titleFontSize": 18, "titleFontWeight": "normal", "titlePadding": 9.5}},
  "y": {"field": "y", "type": "quantitative", "axis": {"orient": "right", "offset": -68, "values": [600,700,800,900], "tickSize": -3, "labels": false, "title": null}}}}
],
"resolve": {"axis": {"x": "independent", "y": "independent"}}
},
{
"layer": [
{"data": {"name": "b"}, "transform": [{"filter": "datum.p == 'F'"}],
 "mark": {"type": "line", "color": "#000000", "strokeWidth": 3, "strokeJoin": "round", "strokeCap": "round"},
 "encoding": {
  "x": {"field": "x", "type": "quantitative", "scale": {"domain": [-1, 20], "range": [92, 307], "nice": false, "zero": false},
        "axis": {"orient": "bottom", "offset": -60, "values": [0,5,10,15,20], "tickSize": -3, "labelPadding": 13, "labelFontSize": 16, "title": "# RR Interval", "titleFontSize": 18, "titleFontWeight": "normal", "titlePadding": 2}},
  "y": {"field": "y", "type": "quantitative", "scale": {"domain": [550, 950], "range": [403, 262], "nice": false, "zero": false},
        "axis": {"orient": "left", "offset": -92, "values": [600,700,800,900], "tickSize": -3, "labelPadding": 14, "labelFontSize": 16, "title": "RR Interval (ms)", "titleFontSize": 18.5, "titleFontWeight": "normal", "titlePadding": 6}},
  "detail": {"field": "i", "type": "nominal"}}},
{"data": {"name": "b"}, "transform": [{"filter": "datum.p == 'F'"}],
 "mark": {"type": "circle", "color": "#000000", "size": 36, "opacity": 1},
 "encoding": {
  "x": {"field": "x", "type": "quantitative", "axis": {"orient": "top", "offset": -262, "values": [0,5,10,15,20], "tickSize": -3, "labels": false, "title": "FIR filtered", "titleFontSize": 18, "titleFontWeight": "normal", "titlePadding": 9.5}},
  "y": {"field": "y", "type": "quantitative", "axis": {"orient": "right", "offset": -352, "values": [600,700,800,900], "tickSize": -3, "labels": false, "title": null}}}}
],
"resolve": {"axis": {"x": "independent", "y": "independent"}}
},
{
"layer": [
{"data": {"name": "b"}, "transform": [{"filter": "datum.p == 'M'"}],
 "mark": {"type": "line", "color": "#00ff00", "strokeWidth": 3, "strokeJoin": "round", "strokeCap": "round"},
 "encoding": {
  "x": {"field": "x", "type": "quantitative", "scale": {"domain": [-1, 20], "range": [384, 591], "nice": false, "zero": false},
        "axis": {"orient": "bottom", "offset": -59, "values": [0,5,10,15,20], "tickSize": -3, "labelPadding": 13, "labelFontSize": 16, "title": "# RR Interval", "titleFontSize": 18, "titleFontWeight": "normal", "titlePadding": 2}},
  "y": {"field": "y", "type": "quantitative", "scale": {"domain": [550, 950], "range": [404, 265], "nice": false, "zero": false},
        "axis": {"orient": "left", "offset": -384, "values": [600,700,800,900], "tickSize": -3, "labelPadding": 14, "labelFontSize": 16, "title": "RR Interval (ms)", "titleFontSize": 18.5, "titleFontWeight": "normal", "titlePadding": 6}},
  "detail": {"field": "i", "type": "nominal"}}},
{"data": {"name": "b"}, "transform": [{"filter": "datum.p == 'M'"}],
 "mark": {"type": "circle", "color": "#00ff00", "size": 36, "opacity": 1},
 "encoding": {
  "x": {"field": "x", "type": "quantitative", "axis": {"orient": "top", "offset": -265, "values": [0,5,10,15,20], "tickSize": -3, "labels": false, "title": "MED filtered", "titleFontSize": 18, "titleFontWeight": "normal", "titlePadding": 9.5}},
  "y": {"field": "y", "type": "quantitative", "axis": {"orient": "right", "offset": -68, "values": [600,700,800,900], "tickSize": -3, "labels": false, "title": null}}}}
],
"resolve": {"axis": {"x": "independent", "y": "independent"}}
}
],
"resolve": {"scale": {"x": "independent", "y": "independent"}, "axis": {"x": "independent", "y": "independent"}}
}
],
"config": {
 "font": "Liberation Sans",
 "view": {"stroke": null},
 "axis": {"grid": false, "domainColor": "#000", "tickColor": "#000", "labelColor": "#000", "titleColor": "#000", "labelFlush": false, "labelOverlap": false, "domainWidth": 1, "tickWidth": 1, "labelFont": "Liberation Sans", "titleFont": "Liberation Sans"},
 "title": {"font": "Liberation Serif", "fontSize": 22, "fontWeight": "normal", "color": "#000"},
 "text": {"font": "Liberation Sans"}
}
}
